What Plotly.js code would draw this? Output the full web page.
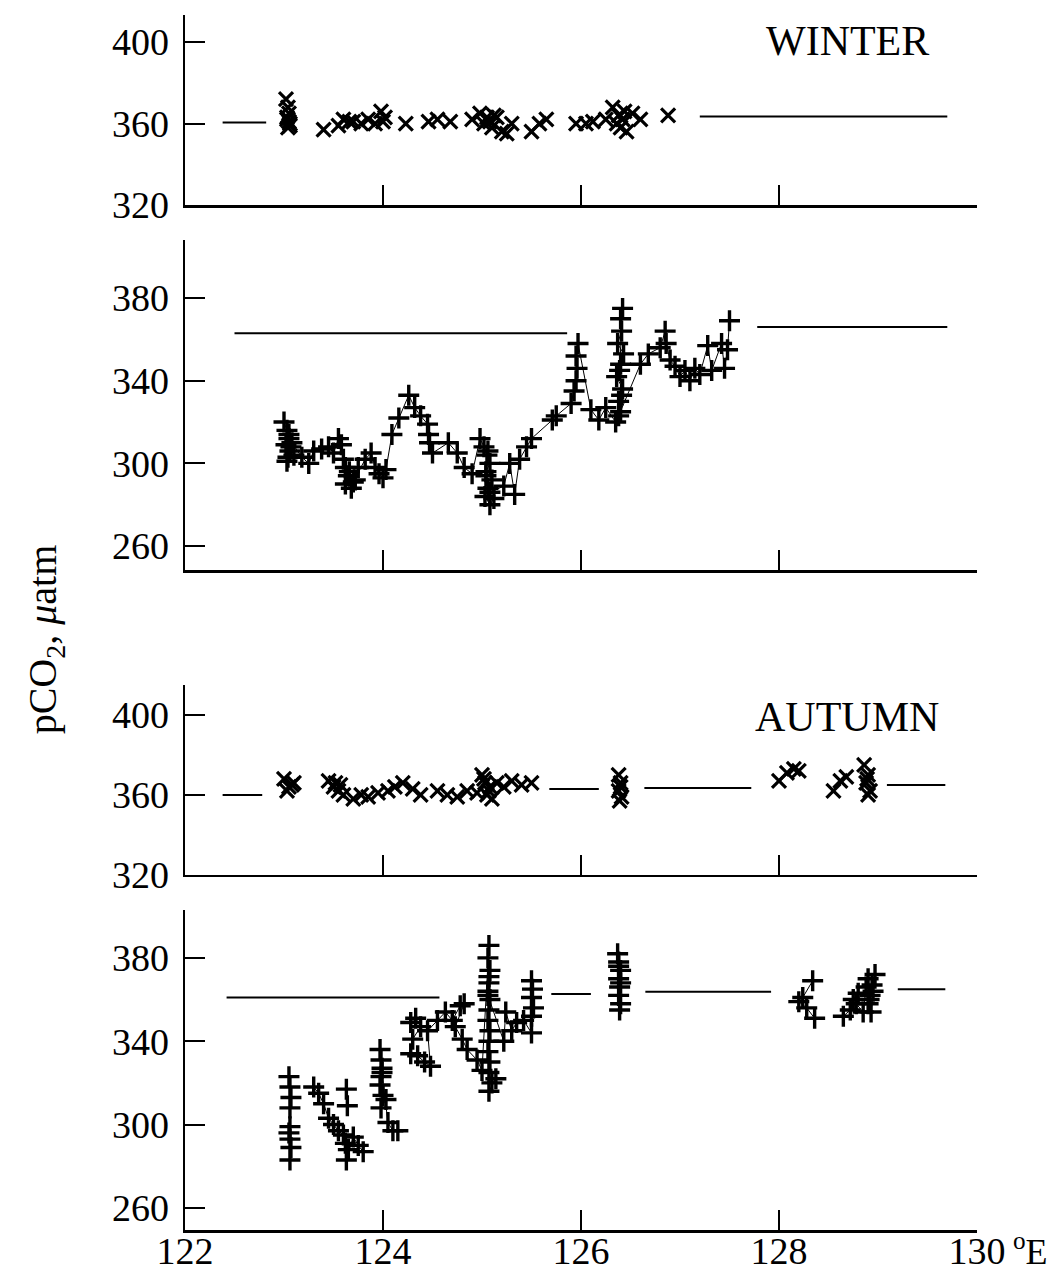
<!DOCTYPE html>
<html>
<head>
<meta charset="utf-8">
<script src="https://cdn.plot.ly/plotly-3.0.1.min.js"></script>
<style>html,body{margin:0;padding:0;background:#fff;}#chart{width:1060px;height:1276px;}</style>
</head>
<body>
<div id="chart"></div>
<script>
// ---------- DATA ----------
var xTickVals = [122, 124, 126, 128, 130];
var xTickText = ['122', '124', '126', '128', '130'];
var yTicksAtm = [320, 360, 400];
var yTicksSea = [260, 300, 340, 380];

// Winter, atmosphere (x markers)
var winterAtmLon = [123.02,123.04,123.05,123.03,123.06,123.04,123.05,123.03,123.06, 123.40,
  123.55,123.60,123.66,123.70,123.78,123.85,123.92,123.98,124.02,124.00, 124.23,
  124.46,124.55,124.68, 124.90,124.98,125.02,125.05,125.08,125.10,125.12,125.15,125.20,125.25,125.30,
  125.50,125.58,125.65, 125.95,126.05,126.12,
  126.25,126.32,126.36,126.38,126.40,126.42,126.44,126.46,126.52,126.60, 126.88];
var winterAtmVal = [372,368,365,362,360,358,361,363,359, 357,
  359,362,361,361,360,362,360,366,363,361, 360,
  361,362,361, 362,365,360,363,361,358,364,363,356,355,360,
  356,360,362, 360,360,361,
  362,368,360,364,358,362,366,356,365,362, 364];
var winterAtmLineLon = [122.38, 122.82, null, 127.20, 129.70];
var winterAtmLineVal = [360.5, 360.5, null, 363.5, 363.5];

// Winter, sea water (+ markers)
var winterSeaLon = [123.00,123.03,123.05,123.02,123.06,123.04,123.07,123.10,123.05,123.03,123.08,
  123.18,123.25,123.30,123.38,123.45,123.50,
  123.55,123.58,123.60,123.62,123.65,123.62,123.68,123.72,123.75,123.66,123.70,
  123.82,123.88,123.92,123.96,124.00,124.03,
  124.09,124.16,
  124.26,124.32,124.38,124.45,124.46,124.47,124.50,
  124.66,124.75,124.82,124.90,
  124.98,125.02,125.05,125.08,125.04,125.10,125.06,125.03,125.08,125.12,125.06,125.04,125.08,
  125.22,125.28,125.33,125.38,125.45,125.50,
  125.71,125.75,
  125.90,125.93,125.95,125.96,125.95,125.97,
  126.10,126.18,126.25,
  126.35,126.40,126.38,126.42,126.36,126.40,126.43,126.37,126.41,126.40,126.42,126.39,126.41,126.38,
  126.60,126.68,126.80,126.85,126.86,126.90,126.95,127.00,127.05,127.10,127.15,127.20,
  127.28,127.32,127.42,127.45,127.48,127.50];
var winterSeaVal = [320,316,312,309,306,303,308,304,314,301,310,
  303,300,306,307,308,305,
  312,309,302,298,294,290,288,292,298,296,291,
  302,305,298,295,293,297,
  314,322,
  333,327,323,319,314,310,305,
  310,305,298,295,
  312,308,304,300,296,292,288,284,280,283,306,294,286,
  289,300,285,302,308,312,
  321,323,
  329,335,340,346,352,358,
  326,321,327,
  320,325,330,336,342,348,353,358,364,370,375,345,333,323,
  348,353,356,364,358,350,347,342,345,340,346,343,
  357,345,358,346,355,369];
var winterSeaLineLon = [122.50, 125.86, null, 127.78, 129.70];
var winterSeaLineVal = [363, 363, null, 366, 366];

// Autumn, atmosphere (x markers)
var autumnAtmLon = [123.00,123.05,123.10,123.03,123.08,
  123.45,123.50,123.55,123.60,123.52,123.57,
  123.70,123.78,123.85,123.95,124.05,124.12,124.20,124.30,124.38,
  124.55,124.65,124.75,124.85,124.95,
  125.00,125.03,125.07,125.10,125.05,125.02,125.08,
  125.15,125.22,125.30,125.40,125.50,
  126.38,126.40,126.38,126.41,126.39,126.40,
  128.00,128.08,128.15,128.20,
  128.55,128.62,128.68,
  128.86,128.90,128.88,128.92,128.90,128.89];
var autumnAtmVal = [368,364,366,362,365,
  367,364,362,360,366,365,
  358,360,359,361,362,364,366,363,360,
  362,360,359,362,361,
  370,366,362,358,360,368,364,
  366,364,367,365,366,
  370,366,362,359,357,364,
  367,371,373,372,
  362,367,369,
  375,370,366,362,360,368];
var autumnAtmLineLon = [122.38, 122.78, null, 125.68, 126.18, null, 126.64, 127.72, null, 129.09, 129.68];
var autumnAtmLineVal = [360, 360, null, 363, 363, null, 363.5, 363.5, null, 365, 365];

// Autumn, sea water (+ markers); null separates track pieces
var autumnSeaLon = [123.05,123.06,123.07,123.06,123.05,123.06,123.07,123.06,123.06, null,
  123.30,123.35,123.40,123.45,123.50,123.55,123.60,123.62,123.65,123.63,123.70,123.75,123.80, null,
  123.63,123.64, null,
  123.97,123.98,123.99,123.98,123.97,124.00,124.03,123.98,123.99,124.05,124.10,124.15, null,
  124.28,124.33,124.38,124.30,124.28,124.35,124.42,124.48,124.45,124.55,
  124.63,124.70,124.78,124.82,124.73,124.80,124.85,124.95,125.00,
  125.07,125.06,125.08,125.07,125.06,125.08,125.07,125.06,125.08,125.07,125.06,125.08,125.07,125.10,125.14,125.07,125.07,125.06,
  125.22,125.24,125.30,125.35,125.42,125.50,
  125.50,125.51,125.50,125.52,125.50, null,
  126.37,126.38,126.40,126.38,126.39,126.38,126.40,126.39,126.38,126.40, null,
  128.34,128.24,128.20,128.28,128.36, null,
  128.65,128.72,128.75,128.80,128.78,128.85,128.88,128.90,128.92,128.90,128.93,128.95,128.97,128.91,128.94];
var autumnSeaVal = [323,318,313,308,296,293,289,283,299, null,
  318,315,310,303,300,297,295,291,288,283,294,290,287, null,
  317,309, null,
  336,331,327,323,319,314,312,308,325,301,297,297, null,
  349,351,347,341,334,333,330,328,345,350,
  354,350,357,358,347,341,336,331,326,
  386,380,374,368,364,360,355,350,345,340,335,330,325,320,322,316,371,362,
  340,354,345,349,350,344,
  369,365,361,356,352, null,
  382,378,374,370,366,362,358,355,376,368, null,
  369,361,359,356,351, null,
  352,355,360,363,358,354,366,370,362,358,354,364,372,360,367];
var autumnSeaLineLon = [122.42, 124.57, null, 125.70, 126.10, null, 126.65, 127.92, null, 129.20, 129.68];
var autumnSeaLineVal = [361, 361, null, 362.7, 362.7, null, 363.7, 363.7, null, 365, 365];

// ---------- STYLE / LAYOUT ----------
var serif = 'Liberation Serif, Times New Roman, serif';
var K = '#000';

function refLine(x, y, xa, ya) {
  return {x: x, y: y, xaxis: xa, yaxis: ya, mode: 'lines', type: 'scatter',
    line: {color: K, width: 2}, hoverinfo: 'skip', showlegend: false, connectgaps: false};
}
function atmTrace(x, y, xa, ya) {
  return {x: x, y: y, xaxis: xa, yaxis: ya, mode: 'markers', type: 'scatter', showlegend: false,
    marker: {symbol: 'x-thin-open', size: 14, color: K, line: {color: K, width: 3.2}}};
}
function seaTrace(x, y, xa, ya) {
  return {x: x, y: y, xaxis: xa, yaxis: ya, mode: 'lines+markers', type: 'scatter', showlegend: false,
    connectgaps: false,
    line: {color: K, width: 1},
    marker: {symbol: 'cross-thin-open', size: 15, color: K, line: {color: K, width: 3.4}}};
}

var data = [
  refLine(winterAtmLineLon, winterAtmLineVal, 'x', 'y'),
  atmTrace(winterAtmLon, winterAtmVal, 'x', 'y'),
  refLine(winterSeaLineLon, winterSeaLineVal, 'x2', 'y2'),
  seaTrace(winterSeaLon, winterSeaVal, 'x2', 'y2'),
  refLine(autumnAtmLineLon, autumnAtmLineVal, 'x3', 'y3'),
  atmTrace(autumnAtmLon, autumnAtmVal, 'x3', 'y3'),
  refLine(autumnSeaLineLon, autumnSeaLineVal, 'x4', 'y4'),
  seaTrace(autumnSeaLon, autumnSeaVal, 'x4', 'y4')
];

function xAxis(anchor, labels) {
  return {anchor: anchor, range: [122, 130], showline: true, linecolor: K, linewidth: 2.5,
    ticks: 'inside', ticklen: 20, tickwidth: 2, tickcolor: K, showgrid: false, zeroline: false,
    tickmode: 'array', tickvals: xTickVals, ticktext: xTickText, ticklabelstandoff: -14,
    showticklabels: labels, tickfont: {family: serif, size: 38, color: K}};
}
function yAxis(anchor, domain, range, ticks) {
  return {anchor: anchor, domain: domain, range: range, showline: true, linecolor: K, linewidth: 2.5,
    ticks: 'inside', ticklen: 20, tickwidth: 2, tickcolor: K, showgrid: false, zeroline: false,
    tickmode: 'array', tickvals: ticks, ticktext: ticks.map(String), ticklabelstandoff: 6,
    tickfont: {family: serif, size: 38, color: K}};
}

var layout = {
  width: 1060, height: 1276,
  margin: {l: 185, r: 83, t: 15, b: 46, pad: 0},
  paper_bgcolor: '#fff', plot_bgcolor: 'rgba(0,0,0,0)',
  showlegend: false,
  xaxis: xAxis('y', false),
  xaxis2: xAxis('y2', false),
  xaxis3: xAxis('y3', false),
  xaxis4: xAxis('y4', true),
  yaxis: yAxis('x', [0.8436, 1.0], [320, 413.3], yTicksAtm),
  yaxis2: yAxis('x2', [0.5432, 0.8148], [248.4, 408.1], yTicksSea),
  yaxis3: yAxis('x3', [0.2922, 0.4486], [320, 415], yTicksAtm),
  yaxis4: yAxis('x4', [0, 0.2634], [249.4, 403], yTicksSea),
  annotations: [
    {text: 'WINTER', xref: 'paper', yref: 'paper', x: 0.836, y: 0.979, xanchor: 'center', yanchor: 'middle',
      showarrow: false, font: {family: serif, size: 42, color: K}},
    {text: 'AUTUMN', xref: 'paper', yref: 'paper', x: 0.836, y: 0.422, xanchor: 'center', yanchor: 'middle',
      showarrow: false, font: {family: serif, size: 42, color: K}},
    {text: 'pCO<sub>2</sub>, <i>μ</i>atm', xref: 'paper', yref: 'paper', x: -0.177, y: 0.486,
      xanchor: 'center', yanchor: 'middle',
      textangle: -90, showarrow: false, font: {family: serif, size: 40, color: K}},
    {text: '<sup>o</sup>E', xref: 'paper', yref: 'paper', x: 1.043, y: -0.016, xanchor: 'left', yanchor: 'middle',
      showarrow: false, font: {family: serif, size: 36, color: K}}
  ]
};

Plotly.newPlot('chart', data, layout, {staticPlot: true, displayModeBar: false});
</script>
</body>
</html>
